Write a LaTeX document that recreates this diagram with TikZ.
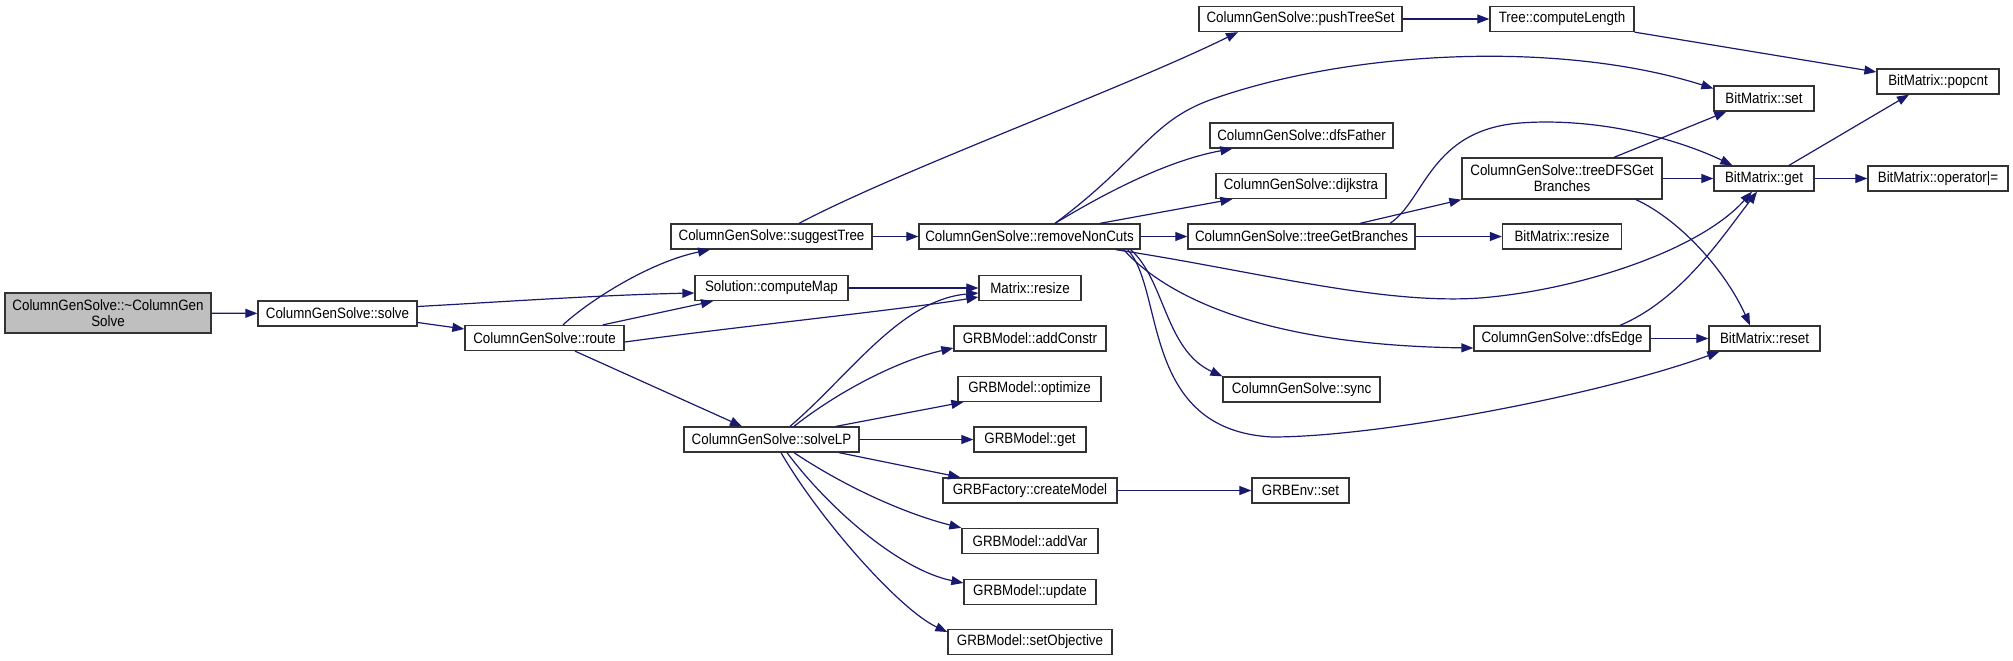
\documentclass[tikz,border=0pt]{standalone}
\usepackage{fontspec}
\newfontfamily\fnfont[FakeStretch=0.89]{Liberation Sans}
\usetikzlibrary{arrows.meta}
\definecolor{callcol}{HTML}{191970}
\definecolor{rootfill}{HTML}{BFBFBF}
\begin{document}
\begin{tikzpicture}[x=1pt,y=-1pt,
  fn/.style={draw=black!80,line width=1.3pt,fill=white,minimum height=25pt,inner sep=0pt,
    align=center,font=\fnfont\fontsize{15}{16}\selectfont},
  call/.style={draw=callcol,line width=1.2pt,-{Triangle[length=12pt,width=9pt]}}]
\useasboundingbox (0,0) rectangle (2013,661);
\node[fn,fill=rootfill,minimum width=206pt,minimum height=40pt] (dtor) at (108,313) {ColumnGenSolve::\textasciitilde ColumnGen\\Solve};
\node[fn,minimum width=159pt] (solve) at (337.5,313.5) {ColumnGenSolve::solve};
\node[fn,minimum width=159pt] (route) at (544.5,338) {ColumnGenSolve::route};
\node[fn,minimum width=201pt] (suggest) at (771.5,236.5) {ColumnGenSolve::suggestTree};
\node[fn,minimum width=153pt] (cmap) at (771.5,288) {Solution::computeMap};
\node[fn,minimum width=175pt] (solvelp) at (771.5,439.5) {ColumnGenSolve::solveLP};
\node[fn,minimum width=221pt] (rmcuts) at (1029.5,236.5) {ColumnGenSolve::removeNonCuts};
\node[fn,minimum width=102pt] (mresize) at (1030,288) {Matrix::resize};
\node[fn,minimum width=152pt] (addconstr) at (1030,338.5) {GRBModel::addConstr};
\node[fn,minimum width=143pt] (optimize) at (1029.5,389) {GRBModel::optimize};
\node[fn,minimum width=112pt] (grbget) at (1030,439.5) {GRBModel::get};
\node[fn,minimum width=174pt] (createmodel) at (1030,490.5) {GRBFactory::createModel};
\node[fn,minimum width=136pt] (addvar) at (1030,541) {GRBModel::addVar};
\node[fn,minimum width=132pt] (update) at (1030,592) {GRBModel::update};
\node[fn,minimum width=164pt] (setobj) at (1030,642) {GRBModel::setObjective};
\node[fn,minimum width=203pt] (pushtree) at (1300.5,19) {ColumnGenSolve::pushTreeSet};
\node[fn,minimum width=183pt] (dfsfather) at (1301.5,135.5) {ColumnGenSolve::dfsFather};
\node[fn,minimum width=170pt] (dijkstra) at (1301,186) {ColumnGenSolve::dijkstra};
\node[fn,minimum width=227pt] (treebr) at (1301.5,236.5) {ColumnGenSolve::treeGetBranches};
\node[fn,minimum width=157pt] (sync) at (1301.5,389.5) {ColumnGenSolve::sync};
\node[fn,minimum width=97pt] (envset) at (1300.5,490.5) {GRBEnv::set};
\node[fn,minimum width=144pt] (complen) at (1562,19) {Tree::computeLength};
\node[fn,minimum width=200pt,minimum height=41pt] (treedfs) at (1562,178.5) {ColumnGenSolve::treeDFSGet\\Branches};
\node[fn,minimum width=119pt] (bmresize) at (1562,236.5) {BitMatrix::resize};
\node[fn,minimum width=176pt] (dfsedge) at (1562,338.5) {ColumnGenSolve::dfsEdge};
\node[fn,minimum width=100pt] (bmset) at (1764,98.5) {BitMatrix::set};
\node[fn,minimum width=100pt] (bmget) at (1764,178.5) {BitMatrix::get};
\node[fn,minimum width=111pt] (bmreset) at (1764.5,338.5) {BitMatrix::reset};
\node[fn,minimum width=122pt] (popcnt) at (1938,81.5) {BitMatrix::popcnt};
\node[fn,minimum width=140pt] (bmor) at (1938,178.5) {BitMatrix::operator|=};
% left part
\draw[call] (dtor) -- (solve);
\draw[call] ([yshift=7pt]solve.east) .. controls (500,302) and (600,295) .. ([yshift=-5pt]cmap.west);
\draw[call] ([yshift=-9pt]solve.east) -- ([yshift=9pt]route.west);
\draw[call] ([xshift=18.5pt]route.north) .. controls (590,300) and (650,262) .. ([xshift=-61.5pt]suggest.south);
\draw[call] ([xshift=58.5pt]route.north) -- ([xshift=-58.5pt]cmap.south);
\draw[call] ([yshift=-4pt]route.east) .. controls (750,325) and (900,310) .. ([yshift=-9pt]mresize.west);
\draw[call] ([xshift=30.5pt]route.south) -- ([xshift=-29.5pt]solvelp.north);
\draw[call] ([xshift=27.5pt]suggest.north) .. controls (900,170) and (1120,90) .. ([xshift=-62.5pt]pushtree.south);
\draw[call] (suggest) -- (rmcuts);
\draw[call] (cmap) -- (mresize);
% solveLP
\draw[call] ([xshift=18.5pt]solvelp.north) .. controls (850,375) and (900,300) .. ([yshift=-5pt]mresize.west);
\draw[call] ([xshift=22.5pt]solvelp.north) .. controls (840,390) and (900,360) .. ([yshift=-9.5pt]addconstr.west);
\draw[call] ([xshift=64.5pt]solvelp.north) -- ([xshift=6pt]optimize.south west);
\draw[call] (solvelp) -- (grbget);
\draw[call] ([xshift=67.5pt]solvelp.south) -- ([xshift=18pt]createmodel.north west);
\draw[call] ([xshift=22.5pt]solvelp.south) .. controls (850,490) and (910,515) .. (addvar.north west);
\draw[call] ([xshift=15.5pt]solvelp.south) .. controls (830,510) and (900,570) .. ([yshift=9pt]update.west);
\draw[call] ([xshift=9.5pt]solvelp.south) .. controls (820,520) and (900,610) .. ([yshift=10pt]setobj.west);
\draw[call] (createmodel) -- (envset);
% removeNonCuts
\draw[call] (pushtree) -- (complen);
\draw[call] (complen.south east) -- ([yshift=9.5pt]popcnt.west);
\draw[call] ([xshift=25.5pt]rmcuts.north) .. controls (1140,160) and (1150,122) .. (1210,100)
  .. controls (1350,50) and (1560,40) .. ([yshift=10pt]bmset.west);
\draw[call] ([xshift=25.5pt]rmcuts.north) .. controls (1110,190) and (1170,160) .. ([xshift=23pt]dfsfather.south west);
\draw[call] ([xshift=70.5pt]rmcuts.north) -- ([xshift=17pt]dijkstra.south west);
\draw[call] (rmcuts) -- (treebr);
\draw[call] ([xshift=-25pt]rmcuts.south east) .. controls (1250,270) and (1380,305) .. (1480,298)
  .. controls (1580,290) and (1700,250) .. ([xshift=-12pt]bmget.south);
\draw[call] ([xshift=-17pt]rmcuts.south east) .. controls (1160,290) and (1250,345) .. ([yshift=-9.5pt]dfsedge.west);
\draw[call] ([xshift=-10pt]rmcuts.south east) .. controls (1165,280) and (1165,350) .. (sync.north west);
\draw[call] ([xshift=-13pt]rmcuts.south east) .. controls (1165,290) and (1140,430) .. (1272,437)
  .. controls (1380,437) and (1600,395) .. ([xshift=11pt]bmreset.south west);
% right part
\draw[call] ([xshift=58.5pt]treebr.north) -- (treedfs.south west);
\draw[call] (treebr) -- (bmresize);
\draw[call] ([xshift=88.5pt]treebr.north) .. controls (1425,200) and (1430,130) .. (1520,123)
  .. controls (1600,117) and (1680,140) .. ([xshift=19pt]bmget.north west);
\draw[call] ([xshift=52pt]treedfs.north) -- ([xshift=13pt]bmset.south west);
\draw[call] (treedfs) -- (bmget);
\draw[call] ([xshift=74pt]treedfs.south) .. controls (1680,220) and (1725,270) .. ([xshift=-14.5pt]bmreset.north);
\draw[call] ([xshift=25pt]bmget.north) -- ([xshift=-29pt]popcnt.south);
\draw[call] (bmget) -- (bmor);
\draw[call] ([xshift=58pt]dfsedge.north) .. controls (1680,300) and (1720,240) .. ([xshift=-7pt]bmget.south);
\draw[call] (dfsedge) -- (bmreset);
\end{tikzpicture}
\end{document}
